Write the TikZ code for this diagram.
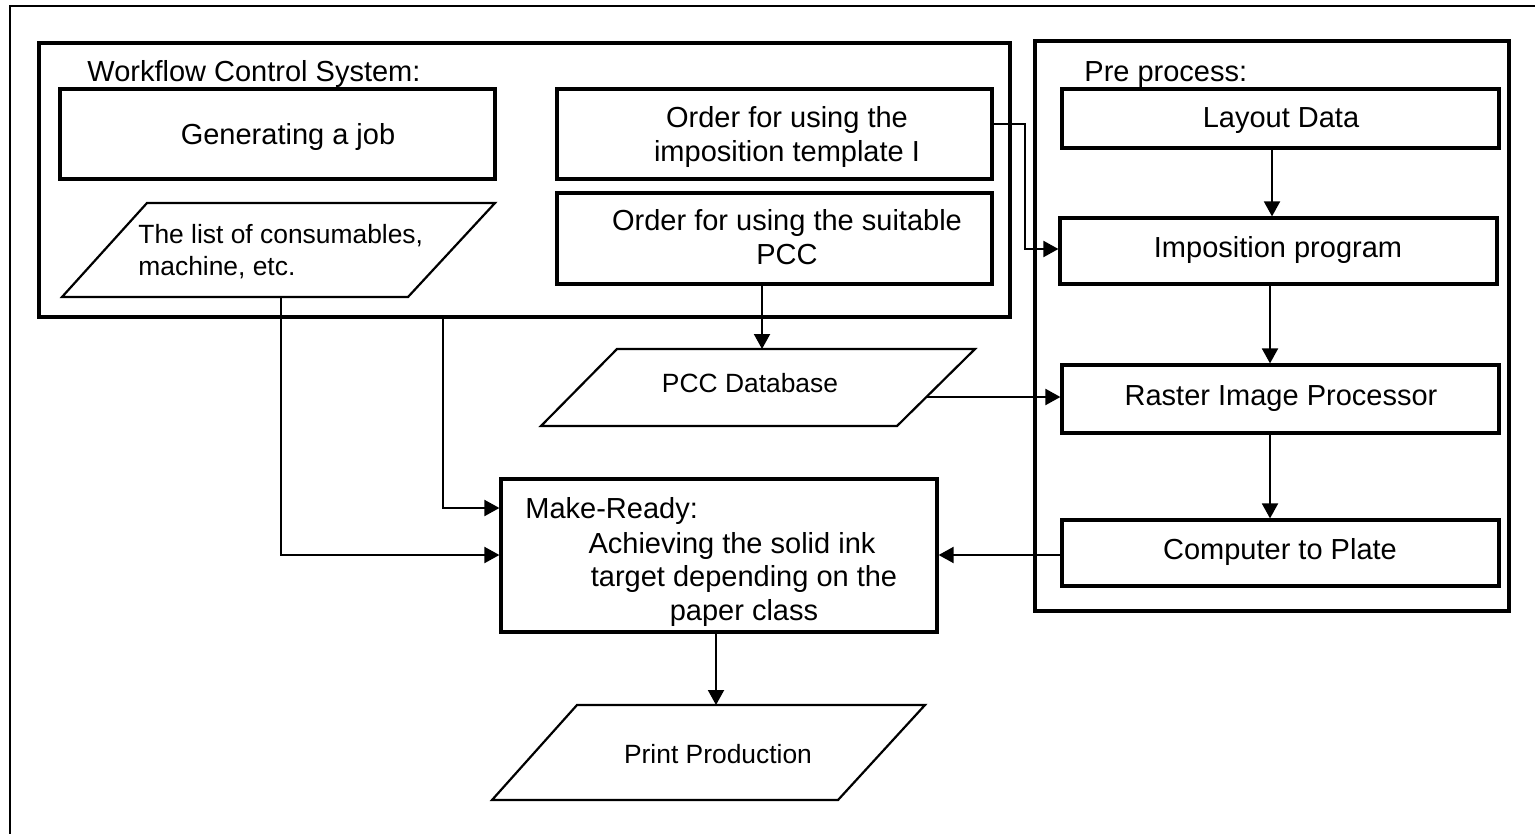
\documentclass[tikz,border=0pt]{standalone}
\usepackage{fontspec}
\setmainfont{Liberation Sans}
\usetikzlibrary{arrows.meta,fit}
\tikzset{
  box/.style={draw, line width=1.6pt, inner sep=0pt, rectangle},
  para/.style={draw, line width=1.1pt, line join=miter},
  big/.style={font=\fontsize{14.5}{17}\selectfont, inner sep=0pt, anchor=base},
  small/.style={font=\fontsize{13.2}{15}\selectfont, inner sep=0pt, anchor=base},
  arr/.style={line width=1pt, -{Triangle[length=7.5pt,width=8pt]}},
  conn/.style={line width=1pt},
}
\begin{document}
\begin{tikzpicture}[x=0.5pt,y=-0.5pt]
\useasboundingbox (0,0) rectangle (1535,834);
% outer frame (partly cut)
\coordinate (fbl) at (10,834);
\coordinate (ftl) at (10,6);
\coordinate (ftr) at (1535,6);
\draw[line width=0.8pt] (fbl) -- (ftl) -- (ftr);

% containers
\node[box, fit={(39,43) (1010,317)}] (wcs) {};
\node[box, fit={(1035,41) (1509,611)}] (pre) {};
\node[big, anchor=base west] (wcsT) at (87,82) {Workflow Control System:};
\node[big, anchor=base west] (preT) at (1084,82) {Pre process:};

% boxes in workflow control system
\node[box, fit={(60,89) (495,179)}] (gen) {};
\node[big] (genT) at (288,145) {Generating a job};
\node[box, fit={(557,89) (992,179)}] (oimp) {};
\node[big] (oimpT1) at (787,128) {Order for using the};
\node[big] (oimpT2) at (787,162) {imposition template I};
\node[box, fit={(557,193) (992,284)}] (opcc) {};
\node[big] (opccT1) at (787,231) {Order for using the suitable};
\node[big] (opccT2) at (787,264) {PCC};

% list parallelogram
\coordinate (l1) at (147,203);
\coordinate (l2) at (495,203);
\coordinate (l3) at (408,297);
\coordinate (l4) at (62,297);
\draw[para] (l1) -- (l2) -- (l3) -- (l4) -- cycle;
\node[small, anchor=base west] (listT1) at (138,243) {The list of consumables,};
\node[small, anchor=base west] (listT2) at (138,275) {machine, etc.};

% pre process boxes
\node[box, fit={(1062,89) (1499,148)}] (lay) {};
\node[big] (layT) at (1281,128) {Layout Data};
\node[box, fit={(1060,218) (1497,284)}] (imp) {};
\node[big] (impT) at (1278,257) {Imposition program};
\node[box, fit={(1062,365) (1499,433)}] (ras) {};
\node[big] (rasT) at (1281,405) {Raster Image Processor};
\node[box, fit={(1062,520) (1499,586)}] (ctp) {};
\node[big] (ctpT) at (1280,559) {Computer to Plate};

% PCC database
\coordinate (p1) at (617,349);
\coordinate (p2) at (975,349);
\coordinate (p3) at (897,426);
\coordinate (p4) at (541,426);
\draw[para] (p1) -- (p2) -- (p3) -- (p4) -- cycle;
\node[small] (pccT) at (750,392) {PCC Database};

% make ready
\node[box, fit={(501,479) (937,632)}] (mr) {};
\node[big, anchor=base west] (mrT0) at (525,518) {Make-Ready:};
\node[big] (mrT1) at (732,553) {Achieving the solid ink};
\node[big] (mrT2) at (744,586) {target depending on the};
\node[big] (mrT3) at (744,620) {paper class};

% print production
\coordinate (q1) at (577,705);
\coordinate (q2) at (925,705);
\coordinate (q3) at (838,800);
\coordinate (q4) at (492,800);
\draw[para] (q1) -- (q2) -- (q3) -- (q4) -- cycle;
\node[small] (ppT) at (718,763) {Print Production};

% helper coordinates
\coordinate (xa) at (1272,0);
\coordinate (xb) at (1270,0);
\coordinate (y555) at (0,555);
\coordinate (y508) at (0,508);
\coordinate (pccR) at (926,397);
\coordinate (pccTop) at (762,349);
\coordinate (k1) at (1025,124);
\coordinate (k2) at (1025,249);
\coordinate (listB) at (281,297);
\coordinate (listC) at (281,555);
\coordinate (w1) at (443,508);
\coordinate (ppTop) at (716,705);

% connectors
\draw[arr] (lay.south -| xa) -- (imp.north -| xa);
\draw[arr] (imp.south -| xb) -- (ras.north -| xb);
\draw[arr] (ras.south -| xb) -- (ctp.north -| xb);
\draw[arr] (ctp.west |- y555) -- (mr.east |- y555);
\draw[arr] (pccR) -- (ras.west |- pccR);
\draw[arr] (opcc.south -| pccTop) -- (pccTop);
\draw[arr] (oimp.east |- k1) -- (k1) -- (k2) -- (imp.west |- k2);
\draw[arr] (listB) -- (listC) -- (mr.west |- listC);
\draw[arr] (wcs.south -| w1) -- (w1) -- (mr.west |- w1);
\draw[arr] (mr.south -| ppTop) -- (ppTop);
\end{tikzpicture}
\end{document}
